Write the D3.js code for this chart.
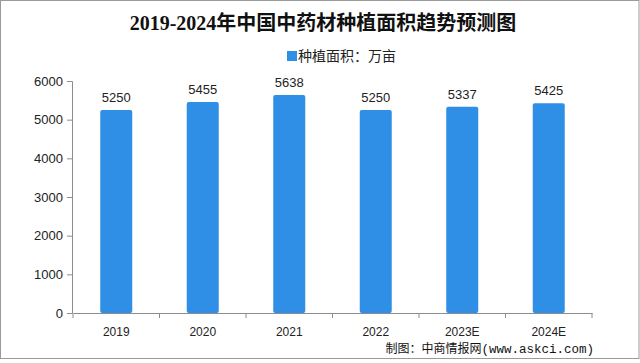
<!DOCTYPE html>
<html>
<head>
<meta charset="utf-8">
<script src="https://cdn.jsdelivr.net/npm/d3@7"></script>
<style>
  body { margin: 0; background: #fff; }
  svg { display: block; }
</style>
</head>
<body>
<div id="chart"></div>
<script>
// data
const years = ['2019', '2020', '2021', '2022', '2023E', '2024E'];
const areas = [5250, 5455, 5638, 5250, 5337, 5425];
const yTicks = [0, 1000, 2000, 3000, 4000, 5000, 6000];
const titleText = '2019-2024年中国中药材种植面积趋势预测图';
const legendText = '种植面积：万亩';

const W = 640, H = 363;
const barColor = '#2f8fe6';
const axisColor = '#8c8c8c';

const svg = d3.select('#chart').append('svg')
    .attr('width', W)
    .attr('height', H);

// frame
svg.append('rect')
    .attr('x', 0.5).attr('y', 0.5)
    .attr('width', W - 1.5).attr('height', 358)
    .attr('fill', '#fff')
    .attr('stroke', '#9a9a9a');

const x = d3.scaleBand()
    .domain(years)
    .range([73, 592])
    .paddingInner(0.63)
    .paddingOuter(0.315);

const y = d3.scaleLinear()
    .domain([0, 6000])
    .range([313, 81]);

// title
svg.append('text')
    .attr('x', 323).attr('y', 30)
    .attr('text-anchor', 'middle')
    .attr('font-family', '"Liberation Serif", "Noto Sans CJK SC", serif')
    .attr('font-size', 20)
    .attr('font-weight', 'bold')
    .attr('fill', '#111')
    .text(titleText);

// legend
svg.append('rect')
    .attr('x', 287).attr('y', 51)
    .attr('width', 10).attr('height', 10)
    .attr('fill', barColor);
svg.append('text')
    .attr('x', 298).attr('y', 61)
    .attr('font-family', '"Noto Sans CJK SC", sans-serif')
    .attr('font-size', 14)
    .attr('fill', '#222')
    .text(legendText);

// bars
svg.append('g')
    .selectAll('rect')
    .data(areas)
    .join('rect')
    .attr('x', (d, i) => x(years[i]))
    .attr('y', d => y(d))
    .attr('width', x.bandwidth())
    .attr('height', d => y(0) - y(d))
    .attr('rx', 2)
    .attr('fill', barColor);

// value labels
svg.append('g')
    .selectAll('text')
    .data(areas)
    .join('text')
    .attr('x', (d, i) => x(years[i]) + x.bandwidth() / 2)
    .attr('y', d => y(d) - 8)
    .attr('text-anchor', 'middle')
    .attr('font-family', '"Liberation Sans", Arial, sans-serif')
    .attr('font-size', 13)
    .attr('fill', '#222')
    .text(d => d);

// y axis
const yAxis = svg.append('g')
    .attr('transform', 'translate(72,0)')
    .call(d3.axisLeft(y).tickValues(yTicks).tickFormat(d3.format('d')).tickSize(5).tickPadding(4));
yAxis.selectAll('text')
    .attr('font-family', '"Liberation Sans", Arial, sans-serif')
    .attr('font-size', 13)
    .attr('fill', '#222');

// x axis
const xAxis = svg.append('g')
    .attr('transform', 'translate(0,313)')
    .call(d3.axisBottom(x).tickSize(0).tickPadding(14));
xAxis.selectAll('text')
    .attr('font-family', '"Liberation Sans", Arial, sans-serif')
    .attr('font-size', 12)
    .attr('fill', '#222');
// category boundary ticks
xAxis.selectAll('line.sep')
    .data(years.concat(['end']))
    .join('line')
    .attr('class', 'sep')
    .attr('x1', (d, i) => i < years.length ? x(d) - x.step() * x.paddingInner() / 2 : x.range()[1])
    .attr('x2', (d, i) => i < years.length ? x(d) - x.step() * x.paddingInner() / 2 : x.range()[1])
    .attr('y1', 0).attr('y2', 5)
    .attr('stroke', axisColor);

svg.selectAll('.domain, .tick line').attr('stroke', axisColor);

// source
const src = svg.append('text')
    .attr('x', 594).attr('y', 353)
    .attr('text-anchor', 'end')
    .attr('font-family', '"Noto Sans CJK SC", sans-serif')
    .attr('font-size', 12)
    .attr('fill', '#111');
src.append('tspan').text('制图：中商情报网');
src.append('tspan')
    .attr('font-family', '"Liberation Mono", monospace')
    .attr('font-size', 12.5)
    .text('(www.askci.com)');
</script>
</body>
</html>
